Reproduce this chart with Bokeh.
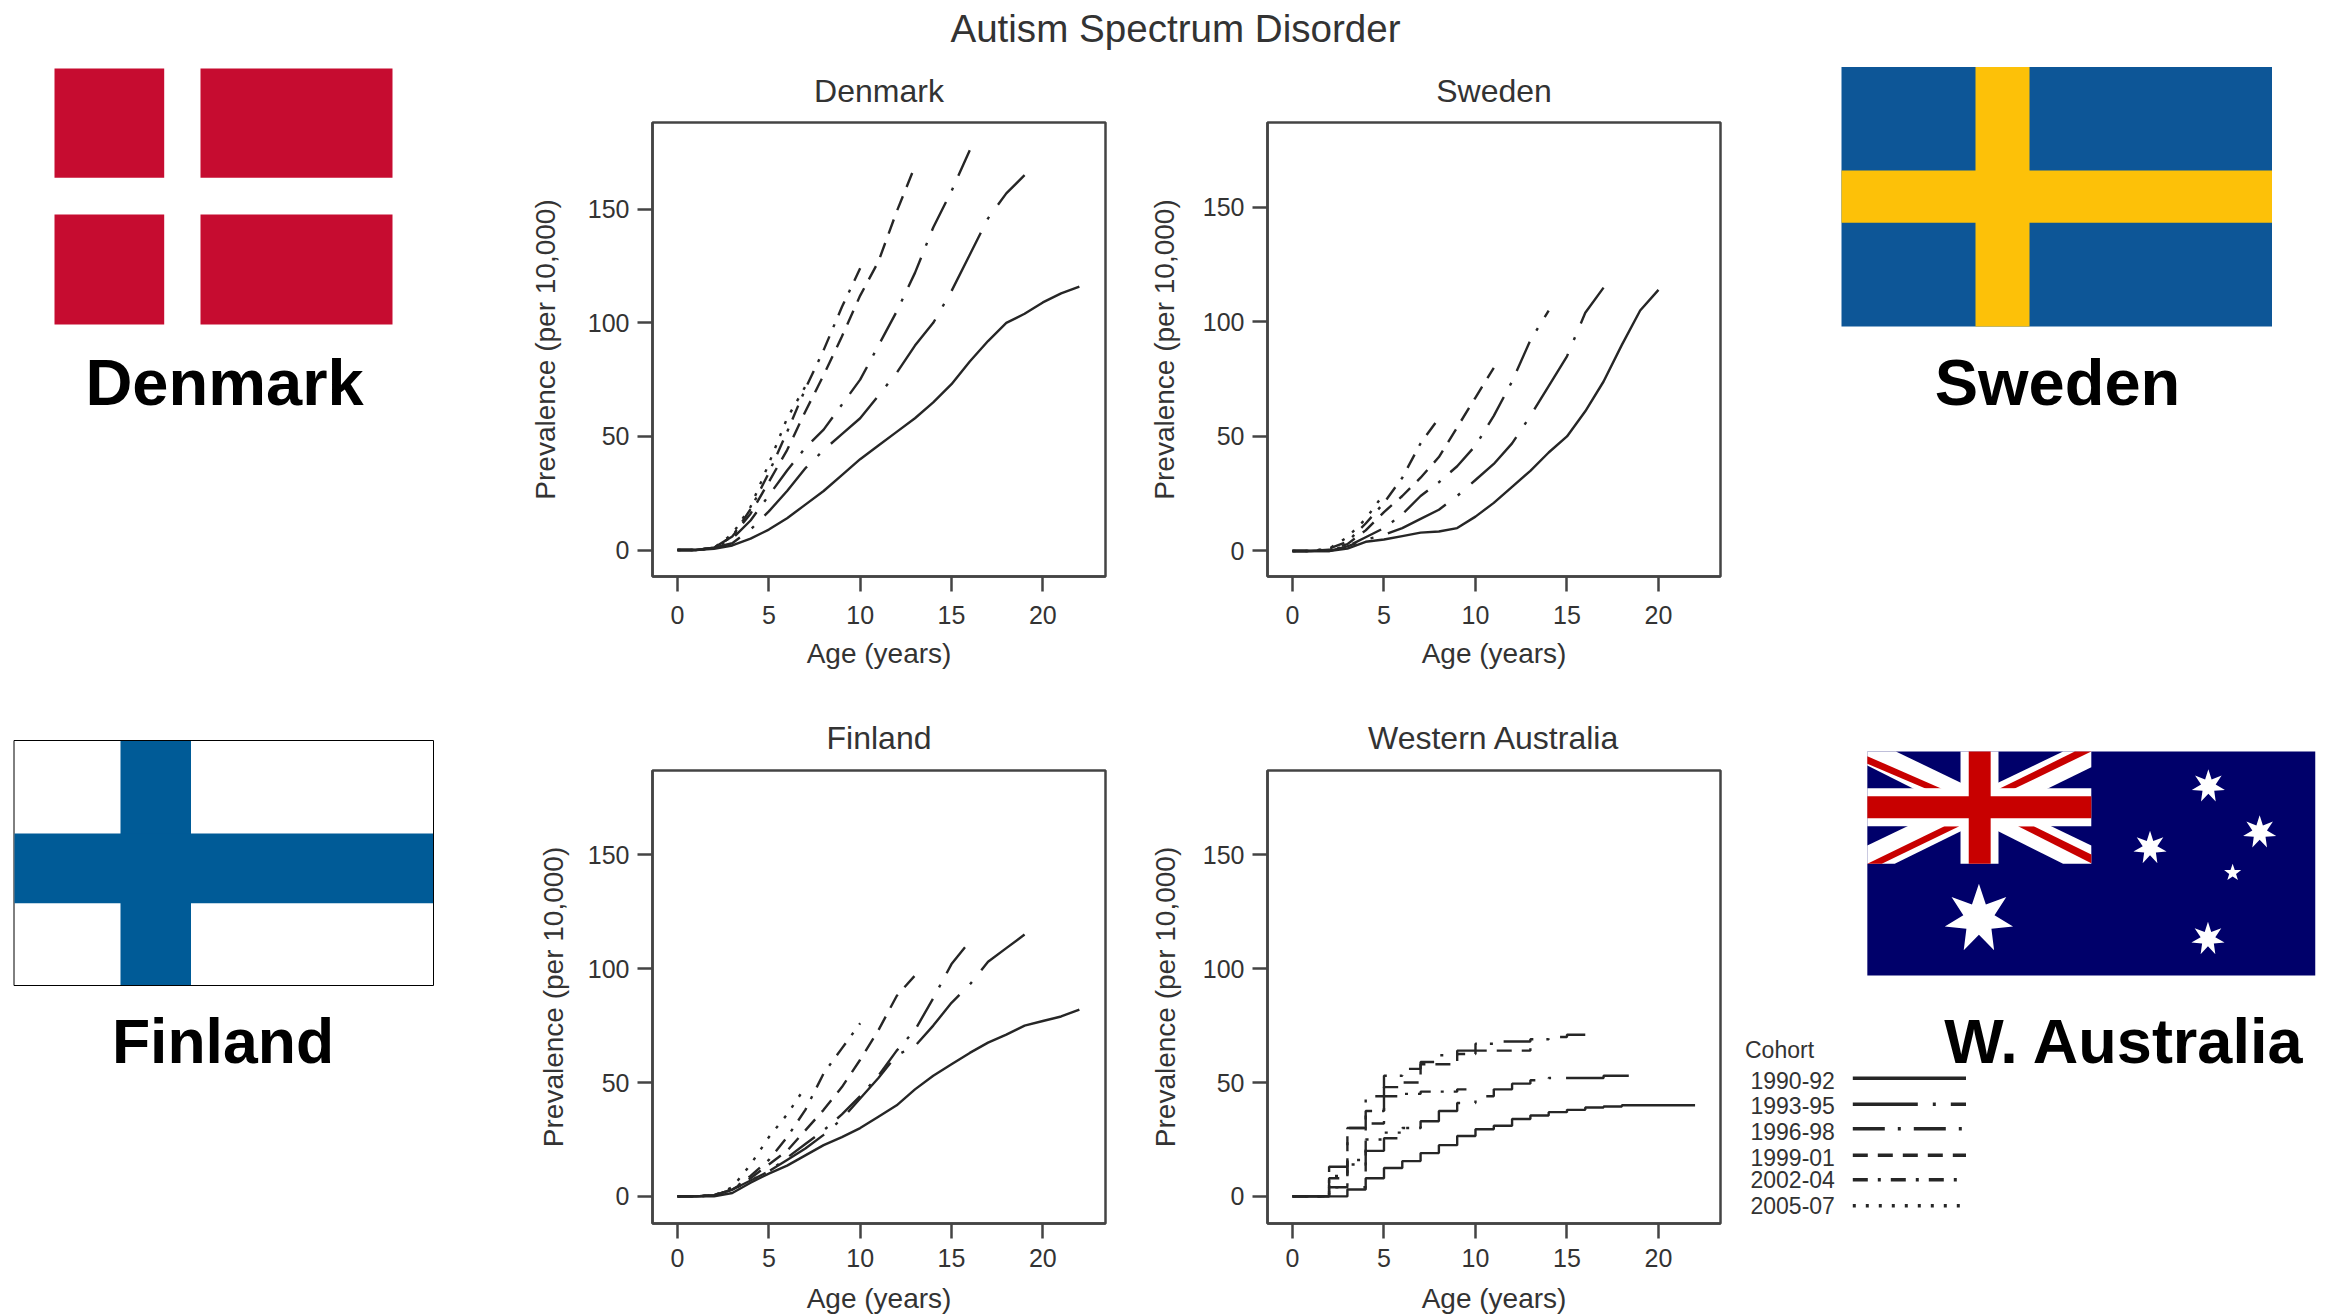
import math
from bokeh.core.properties import value
from bokeh.embed import file_html
from bokeh.layouts import column, row
from bokeh.models import FixedTicker, Range1d
from bokeh.plotting import figure
from bokeh.resources import INLINE

FONT = "Liberation Sans"
INK = "#333333"
LINE = "#262626"

cohorts = ["1990-92", "1993-95", "1996-98", "1999-01", "2002-04", "2005-07"]
dashes = ["solid", "65 15 3 15", "32 13 3 13", "15 10", "15 10 3 10", "3 10"]

# ---- Denmark
dk_90 = [0,0,0.5,2,5,9,14,20,26,33,40,46,52,58,65,73,83,92,100,104,109,113,116]
dk_93 = [0,0,1,3,9,17,26,36,44,51,58,68,78,90,100,114,130,146,157,165]
dk_96 = [0,0,1,5,13,24,35,45,53,64,75,90,105,122,142,158,176]
dk_99 = [0,0,1,6,16,30,44,61,77,94,112,127,149,169]
dk_02 = [0,0,1,6,18,34,52,71,88,107,124]
dk_05 = [0,0,1,7,19,38,58,72]
# ---- Sweden
se_90 = [0,0,0,1,4,5,6.5,8,8.5,10,15,21,28,35,43,50,61,74,90,105,114]
se_93 = [0,0,0,2,5,7,10,14,18,24,31,38,47,59,72,85,104,115]
se_96 = [0,0,0.5,2,6,10,16,24,30,37,46,59,74,92,105]
se_99 = [0,0,0.5,3,9,17,24,32,41,54,67,80]
se_02 = [0,0,1,4,12,21,32,47,58]
se_05 = [0,0,1,6,14,25]
# ---- Finland
fi_90 = [0,0,0,1.5,6,10,13.5,18,22.5,26,30,35,40,47,53,58,63,67.5,71,75,77,79,82]
fi_93 = [0,0,0.5,3,7,11,16,21,27,34,43,52,62,66,75,85,93,103,109,115]
fi_96 = [0,0,0.5,3,7,11,17,23,29,36,44,53,64,73,87,102,112]
fi_99 = [0,0,0.5,3,8,14,20,29,38,48,60,73,88,97]
fi_02 = [0,0,0.5,3,9,16,26,38,54,65,76]
fi_05 = [0,0,0.5,4,14,26,36,48]
# ---- Western Australia (steps)
wa_90 = [0,0,0,3,8,12.5,15.5,19,22.5,26.5,29.5,31,34,35.5,37,38,39,39.5,40,40,40,40,40]
wa_93 = [0,0,4,4,20,25.5,30,33,37.5,41,44,47,49.5,51,52,52,52,53,53,53]
wa_96 = [0,0,13,30,44,53,56,59,62,64,67,68,68,69,70,71,71]
wa_99 = [0,0,8,30,37.5,48,50,58,58,62.5,64,64,64,65]
wa_02 = [0,0,9,16,32,44,45,46,46,47,47]
wa_05 = [0,0,4,14,25,28,30,32]

ticks_x = [0, 5, 10, 15, 20]
ticks_y = [0, 50, 100, 150]


def panel(name, series, width, height, borders, xr, yr, ylabel_standoff, xtick_standoff, xlabel_standoff,
          title_standoff, step=False):
    left, right, top, bottom = borders
    p = figure(width=width, height=height, output_backend="svg", toolbar_location=None,
               x_range=Range1d(*xr), y_range=Range1d(*yr),
               min_border_left=left, min_border_right=right, min_border_top=top, min_border_bottom=bottom,
               title=name, background_fill_color="white", border_fill_color="white")
    p.title.align = "center"
    p.title.text_font = FONT
    p.title.text_font_size = "32px"
    p.title.text_font_style = "normal"
    p.title.text_color = INK
    p.title.standoff = title_standoff
    p.grid.visible = False
    p.outline_line_color = "#444444"
    p.outline_line_width = 2.5
    p.xaxis.ticker = FixedTicker(ticks=ticks_x)
    p.yaxis.ticker = FixedTicker(ticks=ticks_y)
    p.xaxis.axis_label = "Age (years)"
    p.yaxis.axis_label = "Prevalence (per 10,000)"
    for ax in (p.xaxis[0], p.yaxis[0]):
        ax.axis_line_color = "#444444"
        ax.axis_line_width = 2.5
        ax.major_tick_line_color = "#444444"
        ax.major_tick_line_width = 2.5
        ax.major_tick_in = 0
        ax.major_tick_out = 15
        ax.minor_tick_line_color = None
        ax.major_label_text_font = FONT
        ax.major_label_text_font_size = "25px"
        ax.major_label_text_color = INK
        ax.axis_label_text_font = FONT
        ax.axis_label_text_font_style = "normal"
        ax.axis_label_text_color = INK
    p.xaxis[0].axis_label_text_font_size = "28px"
    p.yaxis[0].axis_label_text_font_size = "28px"
    p.xaxis.major_label_standoff = xtick_standoff
    p.yaxis.major_label_standoff = 8
    p.xaxis.axis_label_standoff = xlabel_standoff
    p.yaxis.axis_label_standoff = ylabel_standoff
    for vals, dash in zip(series, dashes):
        xs = list(range(len(vals)))
        if step:
            p.step(xs, vals, mode="after", line_color=LINE, line_width=2.4, line_dash=dash)
        else:
            p.line(xs, vals, line_color=LINE, line_width=2.4, line_dash=dash)
    return p


def canvas(width, height, x0, x1, y0, y1):
    c = figure(width=width, height=height, output_backend="svg", toolbar_location=None,
               x_range=Range1d(x0, x1), y_range=Range1d(y1, y0),
               min_border=0, background_fill_color="white", border_fill_color="white")
    c.axis.visible = False
    c.grid.visible = False
    c.outline_line_color = None
    return c


def label(c, x, y, txt, size, style="normal", align="center", color="black"):
    c.text([x], [y], text=[txt], text_font=value(FONT), text_font_size=value(size),
           text_font_style=style, text_align=align, text_baseline="middle", text_color=color)


def rect(c, l, r, t, b, color):
    c.quad(left=[l], right=[r], top=[t], bottom=[b], fill_color=color, line_color=None)


# ---------- left column (flags of Denmark and Finland)
left = canvas(520, 1316, 0, 520, 0, 1316)
DK_RED = "#C60C30"
rect(left, 54, 163.7, 68, 177.3, DK_RED)
rect(left, 200, 392, 68, 177.3, DK_RED)
rect(left, 54, 163.7, 214, 324, DK_RED)
rect(left, 200, 392, 214, 324, DK_RED)
label(left, 224, 382, "Denmark", "65px", "bold")

FI_BLUE = "#005B97"
left.quad(left=[13.5], right=[433], top=[740], bottom=[985], fill_color="white", line_color="black", line_width=1)
rect(left, 120, 190.5, 740.5, 984.5, FI_BLUE)
rect(left, 14, 432.5, 833, 902.7, FI_BLUE)
label(left, 222.5, 1040, "Finland", "62.5px", "bold")

# ---------- right column (flags of Sweden and Australia, legend)
right = canvas(594, 1316, 1740, 2334, 0, 1316)
SE_BLUE = "#0D5697"
SE_YEL = "#FDC108"
rect(right, 1841, 2271.5, 66.5, 326, SE_BLUE)
rect(right, 1975, 2029, 66.5, 326, SE_YEL)
rect(right, 1841, 2271.5, 170, 222.3, SE_YEL)
label(right, 2057, 382, "Sweden", "65px", "bold")


def az(zx, zy):
    return 1720 + zx / 2.554, 730 + zy / 3


def poly(c, pts, color):
    q = [az(*pt) for pt in pts]
    c.patch([a for a, _ in q], [b for _, b in q], fill_color=color, line_color=None)


def star(c, zx, zy, r_out, r_in, n, color="white"):
    cx, cy = az(zx, zy)
    xs, ys = [], []
    for i in range(2 * n):
        r = r_out if i % 2 == 0 else r_in
        a = math.pi * i / n
        xs.append(cx + r * math.sin(a))
        ys.append(cy - r * math.cos(a))
    c.patch(xs, ys, fill_color=color, line_color=None)


AU_NAVY = "#00006A"
AU_RED = "#C80000"
poly(right, [(375, 63), (1519, 63), (1519, 735), (375, 735)], AU_NAVY)
poly(right, [(375, 63), (448, 63), (947, 345), (947, 400), (875, 400), (375, 105)], "white")
poly(right, [(375, 400), (445, 400), (947, 110), (947, 63), (875, 63), (375, 345)], "white")
poly(right, [(375, 77), (565, 175), (525, 175), (375, 100)], AU_RED)
poly(right, [(905, 63), (947, 63), (750, 175), (712, 175)], AU_RED)
poly(right, [(375, 400), (412, 400), (610, 287), (572, 287)], AU_RED)
poly(right, [(760, 287), (800, 287), (947, 372), (947, 398)], AU_RED)
poly(right, [(613, 63), (710, 63), (710, 400), (613, 400)], "white")
poly(right, [(375, 173), (947, 173), (947, 287), (375, 287)], "white")
poly(right, [(634, 63), (690, 63), (690, 400), (634, 400)], AU_RED)
poly(right, [(375, 197), (947, 197), (947, 263), (375, 263)], AU_RED)
star(right, 660, 565, 35, 16, 7)
star(right, 1246, 167, 17, 7.5, 7)
star(right, 1377, 305, 17, 7.5, 7)
star(right, 1097, 352, 17, 7.5, 7)
star(right, 1245, 625, 17, 7.5, 7)
star(right, 1308, 427, 9, 3.6, 5)
label(right, 2124, 1040, "W. Australia", "63px", "bold")

# legend
label(right, 1744.5, 1049, "Cohort", "23px", align="left", color=INK)
legend_text_y = [1080, 1105.3, 1130.7, 1156.7, 1179.3, 1205.3]
legend_line_y = [1077.7, 1103.7, 1128.3, 1154.7, 1179.3, 1205.3]
for name, dash, ty, ly in zip(cohorts, dashes, legend_text_y, legend_line_y):
    label(right, 1750, ty, name, "23px", align="left", color=INK)
    right.line([1852.3, 1965.5], [ly, ly], line_color=LINE, line_width=3.5, line_dash=dash)

# ---------- middle
head = canvas(1220, 50, 520, 1740, 0, 50)
label(head, 1175, 28, "Autism Spectrum Disorder", "38.6px", color=INK)

p_dk = panel("Denmark", [dk_90, dk_93, dk_96, dk_99, dk_02, dk_05], 620, 650, (132, 35, 72, 123),
             (-1.368, 23.43), (-11.65, 188.2), 24, 14, 11, 28)
p_se = panel("Sweden", [se_90, se_93, se_96, se_99, se_02, se_05], 600, 650, (127, 20, 72, 124),
             (-1.366, 23.39), (-11.15, 187.1), 20, 14, 11, 28)
p_fi = panel("Finland", [fi_90, fi_93, fi_96, fi_99, fi_02, fi_05], 620, 616, (132, 35, 70, 91),
             (-1.368, 23.43), (-11.9, 187.0), 16, 10, 13, 30)
p_wa = panel("Western Australia", [wa_90, wa_93, wa_96, wa_99, wa_02, wa_05], 600, 616, (127, 20, 70, 91),
             (-1.366, 23.39), (-11.9, 187.0), 19, 10, 13, 30, step=True)

layout = row(left, column(head, row(p_dk, p_se), row(p_fi, p_wa)), right)
open("out.html", "w").write(file_html(layout, INLINE))
